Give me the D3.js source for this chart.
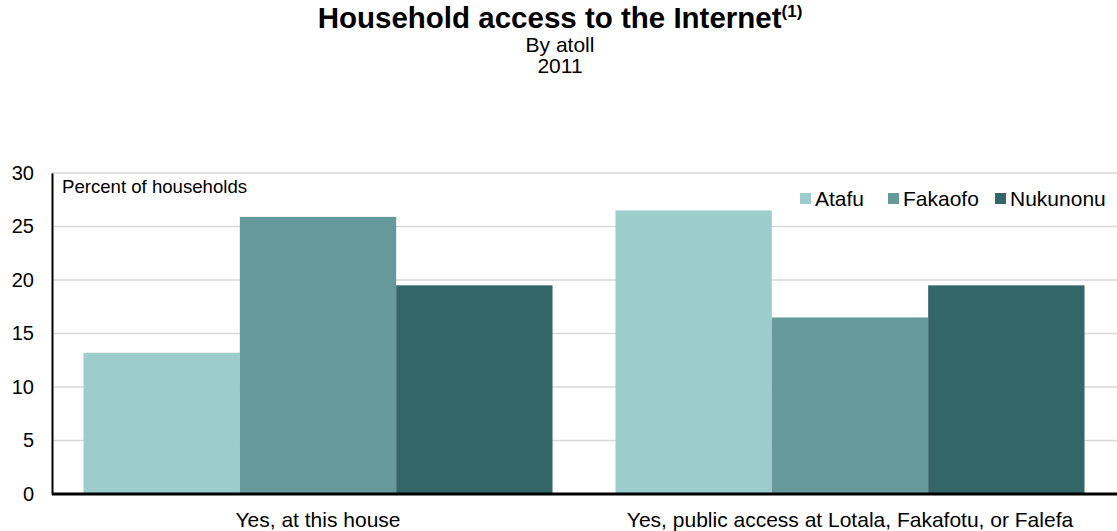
<!DOCTYPE html>
<html>
<head>
<meta charset="utf-8">
<script src="https://cdn.jsdelivr.net/npm/d3@7"></script>
<style>
  html, body { margin: 0; padding: 0; background: #ffffff; }
  svg { display: block; font-family: Arial, "Liberation Sans", sans-serif; }
</style>
</head>
<body>
<svg id="chart" width="1117" height="531"></svg>
<script>
// Household access to the Internet, by atoll, 2011 (percent of households)
const categories = ["Yes, at this house", "Yes, public access at Lotala, Fakafotu, or Falefa"];
const seriesNames = ["Atafu", "Fakaofo", "Nukunonu"];
const atafu = [13.2, 26.5];
const fakaofo = [25.9, 16.5];
const nukunonu = [19.5, 19.5];
const yTicks = [0, 5, 10, 15, 20, 25, 30];
const seriesColors = ["#9ccccc", "#669999", "#336666"];

const seriesValues = [atafu, fakaofo, nukunonu];
const rows = categories.map((c, i) => ({
  category: c,
  values: seriesNames.map((s, j) => ({ series: s, value: seriesValues[j][i] }))
}));

const svg = d3.select("#chart");
const W = 1117;
const plot = { left: 52, right: 1116, top: 173, bottom: 494 };

const x0 = d3.scaleBand()
  .domain(categories)
  .range([plot.left, plot.right])
  .paddingInner(0.1184)
  .paddingOuter(0.0592);

const x1 = d3.scaleBand()
  .domain(seriesNames)
  .range([0, x0.bandwidth()])
  .padding(0);

const y = d3.scaleLinear().domain([0, 30]).range([plot.bottom, plot.top]);

const color = d3.scaleOrdinal().domain(seriesNames).range(seriesColors);

// Titles
const title = svg.append("text")
  .attr("x", 560).attr("y", 28)
  .attr("text-anchor", "middle")
  .attr("font-size", 29.5).attr("font-weight", "bold").attr("fill", "#000");
title.append("tspan").text("Household access to the Internet");
title.append("tspan").attr("font-size", 17).attr("dy", -11).text("(1)");

svg.append("text").attr("x", 560).attr("y", 52).attr("text-anchor", "middle")
  .attr("font-size", 21).attr("fill", "#000").text("By atoll");
svg.append("text").attr("x", 560).attr("y", 73).attr("text-anchor", "middle")
  .attr("font-size", 21).attr("fill", "#000").text("2011");

// Gridlines
svg.append("g")
  .selectAll("line")
  .data(yTicks.filter(t => t > 0))
  .join("line")
  .attr("x1", plot.left).attr("x2", W)
  .attr("y1", d => y(d)).attr("y2", d => y(d))
  .attr("stroke", "#d9d9d9").attr("stroke-width", 1.5);

// Bars
svg.append("g")
  .selectAll("g")
  .data(rows)
  .join("g")
  .attr("transform", d => `translate(${x0(d.category)},0)`)
  .selectAll("rect")
  .data(d => d.values)
  .join("rect")
  .attr("x", d => x1(d.series))
  .attr("width", x1.bandwidth())
  .attr("y", d => y(d.value))
  .attr("height", d => y(0) - y(d.value))
  .attr("fill", d => color(d.series));

// Y axis
const yAxis = d3.axisLeft(y).tickValues(yTicks).tickSize(0).tickPadding(18);
const gy = svg.append("g").attr("transform", `translate(${plot.left},0)`).call(yAxis);
gy.select(".domain").attr("stroke", "#000").attr("stroke-width", 2);
gy.selectAll("text").attr("font-size", 20).attr("fill", "#000")
  .attr("font-family", "Arial, 'Liberation Sans', sans-serif");

// X axis
const xAxis = d3.axisBottom(x0).tickSize(0).tickPadding(18);
const gx = svg.append("g").attr("transform", `translate(0,${plot.bottom})`).call(xAxis);
gx.select(".domain").attr("d", `M${plot.left},0H${W}`).attr("stroke", "#000").attr("stroke-width", 3);
gx.selectAll("text").attr("font-size", 21).attr("fill", "#000")
  .attr("font-family", "Arial, 'Liberation Sans', sans-serif");

// Axis title
svg.append("text").attr("x", 62).attr("y", 193)
  .attr("font-size", 18.6).attr("fill", "#000").text("Percent of households");

// Legend
const legendX = [800, 888, 995];
const lg = svg.append("g").selectAll("g").data(seriesNames).join("g")
  .attr("transform", (d, i) => `translate(${legendX[i]},0)`);
lg.append("rect").attr("x", 0).attr("y", 193).attr("width", 11).attr("height", 11)
  .attr("fill", d => color(d));
lg.append("text").attr("x", 15).attr("y", 206).attr("font-size", 21).attr("fill", "#000")
  .text(d => d);
</script>
</body>
</html>
